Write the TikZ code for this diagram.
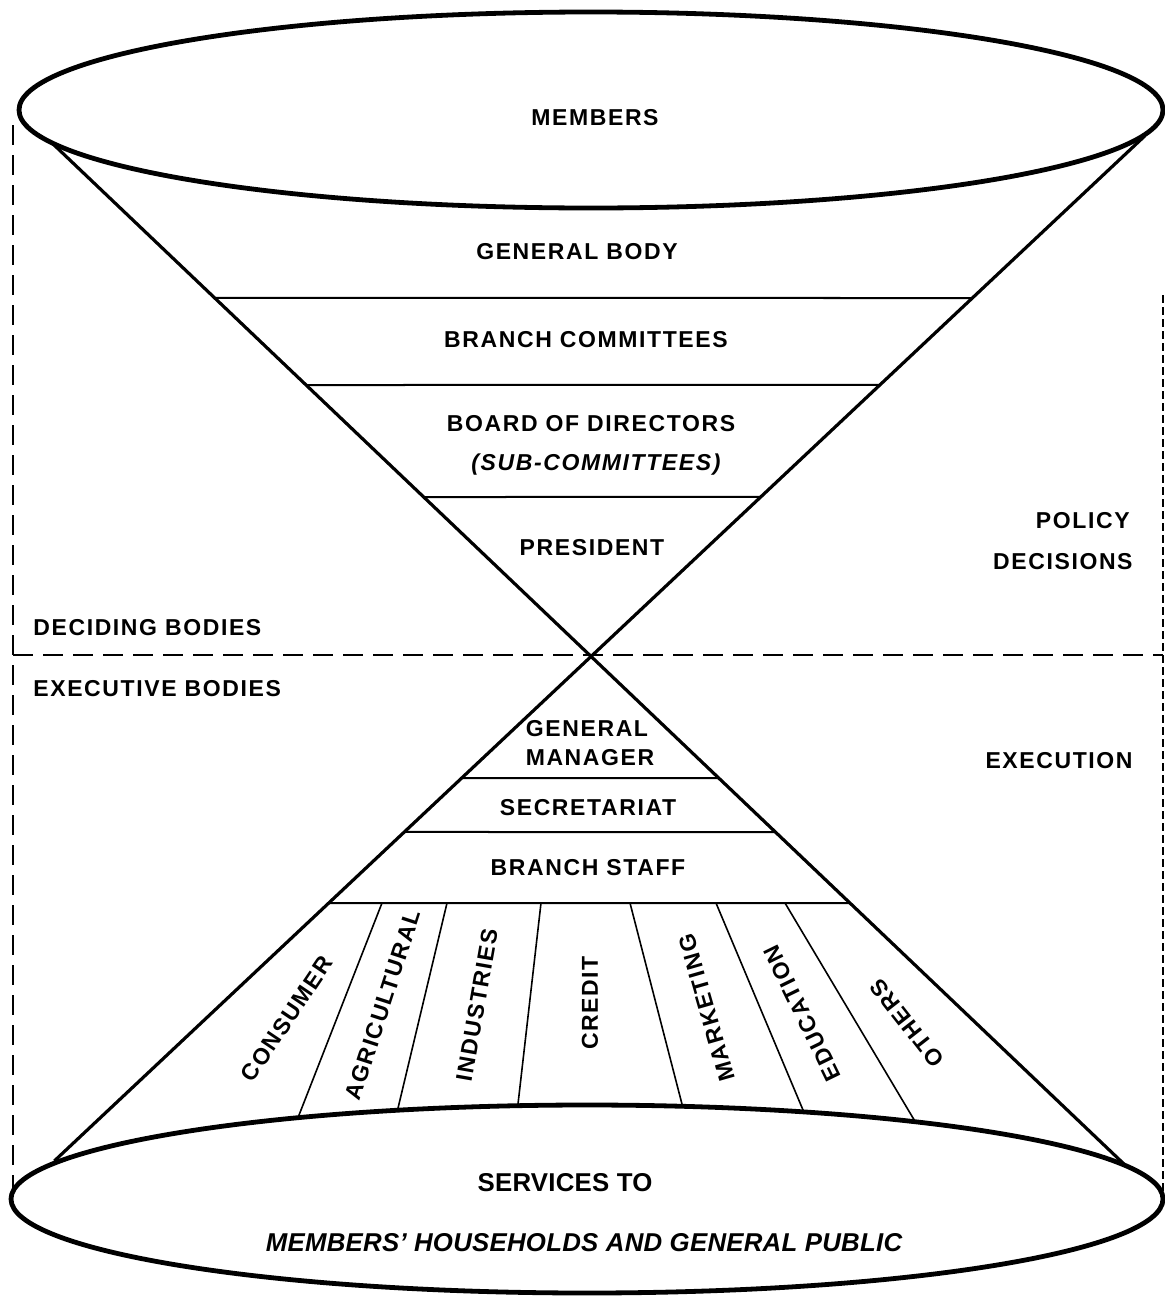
\documentclass[tikz,border=0pt]{standalone}
\usepackage{fontspec}
\setmainfont{Liberation Sans}
\newfontfamily\labf[LetterSpace=7]{Liberation Sans}
\newfontfamily\botf[LetterSpace=1]{Liberation Sans}
\usetikzlibrary{calc}
\newcommand\bandline[1]{\draw[band] ($(tl)!{(#1-143)/1022}!(br)$) -- ($(tr)!{(#1-147)/1003}!(bl)$);}
\begin{document}
\begin{tikzpicture}[x=0.5pt,y=-0.5pt,
  lab/.style={font=\labf\bfseries\fontsize{11.5}{13}\selectfont, inner sep=0pt},
  bot/.style={font=\botf\bfseries\fontsize{12.9}{14}\selectfont, inner sep=0pt},
  cone/.style={line width=1.6pt, shorten <=-8pt, shorten >=-8pt},
  band/.style={line width=1pt},
  div/.style={line width=0.8pt, shorten >=-6pt},
  ell/.style={line width=2.4pt, fill=white},
  dash1/.style={line width=1pt, dash pattern=on 10pt off 5pt},
  dash2/.style={line width=1pt, dash pattern=on 4pt off 2pt}]
\useasboundingbox (0,0) rectangle (1165,1296);
% key points
\coordinate (tl) at (52,143);
\coordinate (br) at (1125,1165);
\coordinate (tr) at (1133,147);
\coordinate (bl) at (66,1150);
\coordinate (dl1) at (13,125);
\coordinate (dl2) at (13,1193);
\coordinate (dr1) at (1163,295);
\coordinate (dr2) at (1163,1193);
\coordinate (dh1) at (13,655);
\coordinate (dh2) at (1163,655);
% dashed frame
\draw[dash1] (dl1) -- (dl2);
\draw[dash2] (dr1) -- (dr2);
\draw[dash1] (dh1) -- (dh2);
% hourglass
\draw[cone] (tl) -- (br);
\draw[cone] (tr) -- (bl);
\bandline{298}
\bandline{385}
\bandline{497}
\bandline{778}
\bandline{832}
\bandline{903}
% fan dividers
\coordinate (f1a) at (382,903); \coordinate (f1b) at (301,1110);
\coordinate (f2a) at (447,903); \coordinate (f2b) at (399,1104);
\coordinate (f3a) at (541,903); \coordinate (f3b) at (518,1104);
\coordinate (f4a) at (630,903); \coordinate (f4b) at (683,1108);
\coordinate (f5a) at (716,903); \coordinate (f5b) at (803,1110);
\coordinate (f6a) at (785,903); \coordinate (f6b) at (916,1123);
\foreach \i in {1,...,6} {\draw[div] (f\i a) -- (f\i b);}
% ellipses
\filldraw[ell] (591,110) ellipse [x radius=572, y radius=98];
\filldraw[ell] (587,1199) ellipse [x radius=576, y radius=94];
% texts
\node[lab] (members) at (595,118) {MEMBERS};
\node[lab] (genbody) at (577,252) {GENERAL BODY};
\node[lab] (branchcom) at (586,340) {BRANCH COMMITTEES};
\node[lab] (board) at (591,424) {BOARD OF DIRECTORS};
\node[lab, font=\labf\bfseries\itshape\fontsize{11.5}{13}\selectfont] (subcom) at (596,465) {(SUB-COMMITTEES)};
\node[lab] (president) at (592,548) {PRESIDENT};
\node[lab, anchor=west] (deciding) at (33,628) {DECIDING BODIES};
\node[lab, anchor=west] (executive) at (33,689) {EXECUTIVE BODIES};
\node[lab, anchor=east] (policy) at (1130,521) {POLICY};
\node[lab, anchor=east] (decisions) at (1133,562) {DECISIONS};
\node[lab, anchor=east] (execution) at (1133,761) {EXECUTION};
\node[lab] (general) at (587,729) {GENERAL};
\node[lab] (manager) at (590,758) {MANAGER};
\node[lab] (secretariat) at (588,808) {SECRETARIAT};
\node[lab] (branchstaff) at (588,868) {BRANCH STAFF};
\node[lab, rotate=56] (consumer) at (287,1019) {CONSUMER};
\node[lab, rotate=72] (agri) at (383,1005) {AGRICULTURAL};
\node[lab, rotate=80] (industries) at (477,1005) {INDUSTRIES};
\node[lab, rotate=90] (credit) at (590,1003) {CREDIT};
\node[lab, rotate=106] (marketing) at (707,1008) {MARKETING};
\node[lab, rotate=116] (education) at (802,1013) {EDUCATION};
\node[lab, rotate=128] (others) at (907,1023) {OTHERS};
\node[bot] (services) at (565,1183) {SERVICES TO};
\node[bot, font=\botf\bfseries\itshape\fontsize{12.9}{14}\selectfont] (public) at (584,1243) {MEMBERS’ HOUSEHOLDS AND GENERAL PUBLIC};
\end{tikzpicture}
\end{document}
